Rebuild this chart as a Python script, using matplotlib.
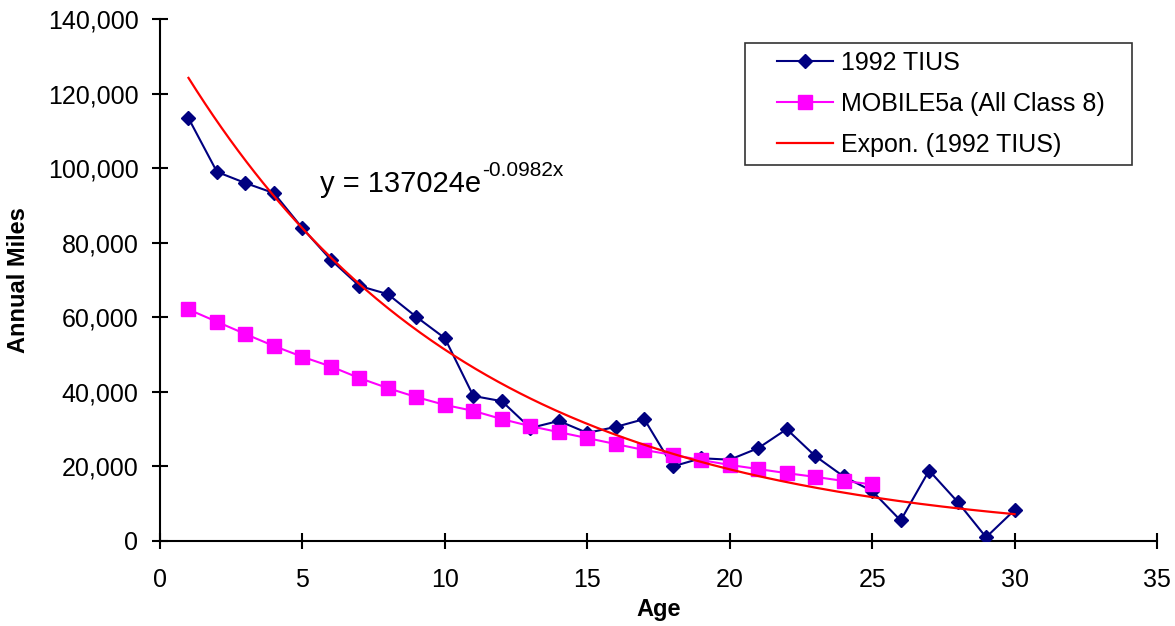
import numpy as np
import matplotlib
matplotlib.use("Agg")
import matplotlib.pyplot as plt
from matplotlib.legend_handler import HandlerLine2D

plt.rcParams['font.family'] = ['Liberation Sans', 'DejaVu Sans']

age = list(range(1, 31))
tius = [113400, 99000, 96000, 93300, 83900, 75400, 68400, 66200, 60100, 54400,
        38900, 37500, 30300, 32200, 29000, 30600, 32700, 20000, 22200, 21800,
        24900, 30000, 22800, 17300, 13400, 5500, 18900, 10500, 1000, 8300]
mobile_age = list(range(1, 26))
mobile = [62100, 58800, 55500, 52300, 49400, 46800, 43700, 41000, 38600, 36500,
          34900, 32700, 30800, 29200, 27600, 26000, 24400, 23100, 21700, 20400,
          19300, 18200, 17200, 16100, 15200]
trend_a = 137024
trend_b = -0.0982
x_ticks = list(range(0, 36, 5))
y_ticks = list(range(0, 140001, 20000))

W, H = 1175, 626
fig = plt.figure(figsize=(W / 100, H / 100), dpi=100)
ax = fig.add_axes([160 / W, 1 - 541 / H, (1157 - 160) / W, (541 - 19) / H])

tx = np.linspace(1, 30, 300)
ty = trend_a * np.exp(trend_b * tx)

l1, = ax.plot(age, tius, color='#000080', lw=1.5, marker='D', ms=6.8, mew=1,
              mfc='#000080', mec='#000080', label='1992 TIUS', zorder=3)
l2, = ax.plot(mobile_age, mobile, color='#FF00FF', lw=1.5, marker='s', ms=10, mew=1,
              mfc='#FF00FF', mec='#FF00FF', label='MOBILE5a (All Class 8)', zorder=4)
l3, = ax.plot(tx, ty, color='#FF0000', lw=1.6, label='Expon. (1992 TIUS)', zorder=5)

ax.set_xlim(0, 35)
ax.set_ylim(0, 140000)
ax.set_xticks(x_ticks)
ax.set_yticks(y_ticks)
ax.set_yticklabels([f"{v:,}" for v in y_ticks])
for s in ['top', 'right']:
    ax.spines[s].set_visible(False)
for s in ['left', 'bottom']:
    ax.spines[s].set_linewidth(1.5)
ax.tick_params(direction='inout', length=11, width=1.5, labelsize=18)
ax.tick_params(axis='x', pad=14)
ax.tick_params(axis='y', pad=10)
ax.set_xlabel('Age', fontsize=17, fontweight='bold', labelpad=4)
ax.set_ylabel('Annual Miles', fontsize=17, fontweight='bold', labelpad=13)

main = ax.text((320 - 160) / 997 * 35, (541 - 192) / 522 * 140000, 'y = 137024e',
               fontsize=21, ha='left', va='baseline')
ax.annotate('-0.0982x', xy=(1, 0), xycoords=main, xytext=(0.5, 16),
            textcoords='offset points', fontsize=15, ha='left', va='baseline')

x0 = (745 - 160) / 997
x1 = (1132 - 160) / 997
y1 = (541 - 43) / 522
y0 = (541 - 165) / 522
leg = ax.legend(handles=[l1, l2, l3], loc='upper left',
                bbox_to_anchor=(x0, y0, x1 - x0, y1 - y0), mode='expand',
                fontsize=18, frameon=True, fancybox=False, edgecolor='black',
                borderpad=0.3, labelspacing=0.69, handlelength=3.22,
                handletextpad=0.32, borderaxespad=0,
                handler_map={l1: HandlerLine2D(xpad=0.98), l2: HandlerLine2D(xpad=0.98),
                             l3: HandlerLine2D(xpad=0.98)})
leg.get_frame().set_linewidth(1.2)
fig.savefig('out.png', dpi=100)
